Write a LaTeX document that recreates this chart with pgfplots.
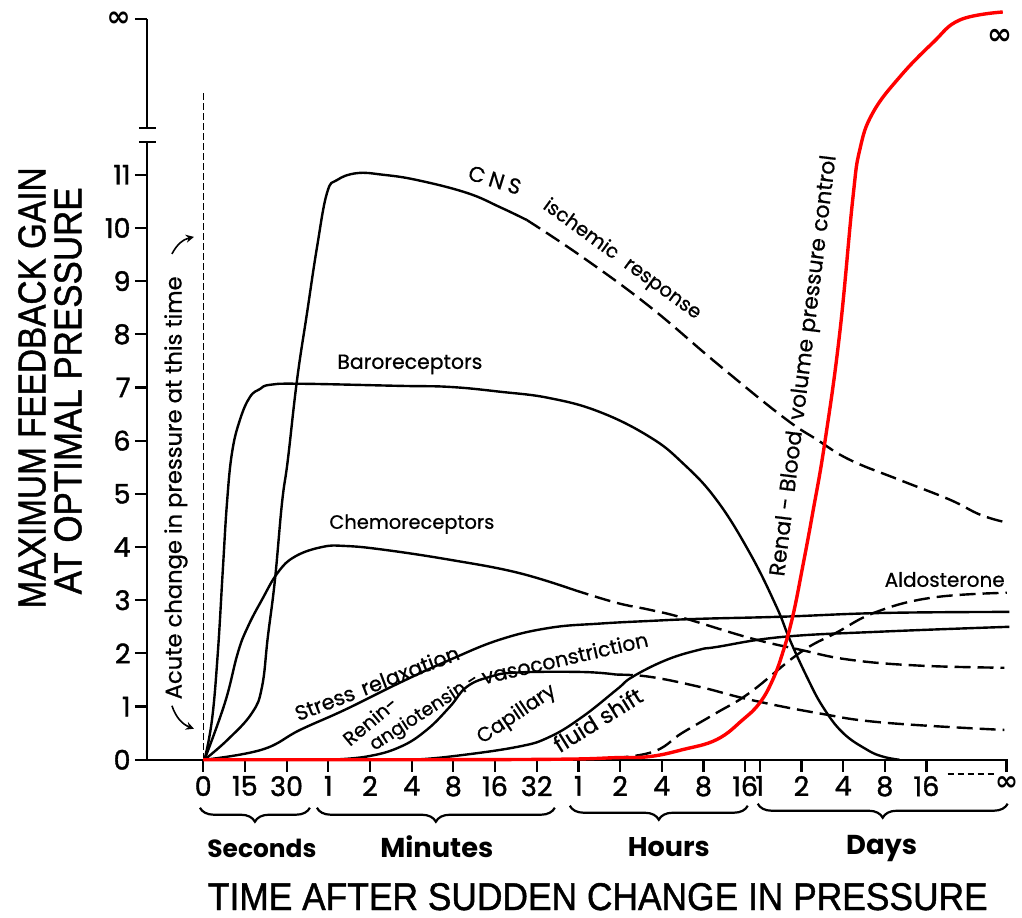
\documentclass[border=0pt]{standalone}
\usepackage{fontspec}
\setmainfont{Poppins}
\newfontfamily\titlefont[FakeBold=1.2]{Liberation Sans}
\newfontfamily\lab[FakeBold=0.7]{Poppins}
\newfontfamily\tickfont[FakeBold=1.4]{Poppins}
\newfontfamily\djv{DejaVu Sans}
\usepackage{pgfplots}
\pgfplotsset{compat=1.18}
\usetikzlibrary{decorations.pathreplacing,arrows.meta}
\newcommand\ticks{\tickfont\fontsize{13.5}{14}\selectfont}
\newcommand\infsym[1]{\resizebox{#1}{!}{\djv\bfseries ∞}}
\pgfplotsset{
  crv/.style={black, line width=1.2pt, smooth, tension=0.7},
  dsh/.style={crv, dash pattern=on 8pt off 3.5pt},
}
\begin{document}
\begin{tikzpicture}
\begin{scope}[x=0.5pt,y=-0.5pt]
\useasboundingbox (0,0) rectangle (1022,917);
\end{scope}
\begin{axis}[
  at={(73.5pt,-380pt)}, anchor=south west,
  scale only axis, width=430.55pt, height=370.54pt,
  xmin=-1.35, xmax=19.3, ymin=0, ymax=13.93,
  axis x line*=bottom, axis y line*=left,
  x axis line style={line width=1.2pt,-},
  y axis line style={line width=1.2pt,-},
  tick align=outside, major tick length=6pt,
  tick style={black, line width=1.1pt},
  xtick={0,1,2,3,4,5,6,7,8,9,10,11,12,13,13.35,14.35,15.35,16.35,17.35,19.27},
  xticklabels={0,15,30,1,2,4,8,16,32,1,2,4,8,16,1,2,4,8,16,{\infsym{11.5pt}}},
  ytick={0,1,2,3,4,5,6,7,8,9,10,11,13.93},
  yticklabels={0,1,2,3,4,5,6,7,8,9,10,11,{\infsym{12pt}}},
  xticklabel style={font=\ticks, inner sep=2pt},
  yticklabel style={font=\ticks, inner sep=2pt},
  clip=false,
]
% acute change line
\addplot[black, line width=0.7pt, dash pattern=on 3.5pt off 1.5pt] coordinates {(0,0) (0,12.55)};
% CNS ischemic response
\addplot[crv] coordinates {(0.03,0) (0.59,0.38) (1.17,0.88) (1.41,1.37) (1.55,2.31) (1.72,3.38) (1.89,4.83) (2.03,5.64) (2.25,7.14) (2.49,8.40) (2.73,9.64) (2.97,10.66) (3.21,10.90) (3.69,11.03) (4.31,11.00) (5.13,10.90) (6.32,10.66) (7.12,10.39) (7.76,10.15)};
\addplot[dsh] coordinates {(7.76,10.15) (9.10,9.45) (10.71,8.52) (12.31,7.46) (13.90,6.45) (14.72,6.02) (15.51,5.64) (16.71,5.26) (17.91,4.89) (18.63,4.61) (19.22,4.47)};
% Baroreceptors
\addplot[crv] coordinates {(0.03,0) (0.21,0.75) (0.35,2.01) (0.47,3.57) (0.57,4.83) (0.69,5.77) (0.88,6.39) (1.12,6.82) (1.36,6.97) (1.60,7.05) (2.32,7.07) (4.72,7.03) (5.92,7.01) (7.12,6.92) (8.31,6.80) (9.51,6.54) (10.71,6.07) (11.50,5.58) (12.31,4.89) (13.11,3.89) (13.75,2.88) (14.07,2.26) (14.48,1.56) (14.86,1.00) (15.34,0.51) (15.92,0.19) (16.30,0.06) (16.70,0)};
% Chemoreceptors
\addplot[crv] coordinates {(0.03,0) (0.52,1.07) (0.83,2.01) (1.07,2.50) (1.41,3.01) (1.79,3.52) (2.20,3.82) (2.85,4.00) (3.40,4.02) (4.32,3.95) (5.92,3.76) (7.53,3.52) (8.87,3.20)};
\addplot[dsh] coordinates {(8.87,3.20) (9.92,2.95) (10.71,2.82) (11.50,2.67) (13.11,2.29) (14.31,2.07) (15.51,1.88) (17.18,1.77) (19.22,1.73)};
% Stress relaxation
\addplot[crv] coordinates {(0.03,0) (1.41,0.19) (2.32,0.56) (3.40,0.94) (4.72,1.45) (5.92,1.88) (7.12,2.26) (8.31,2.48) (9.51,2.56) (10.71,2.61) (11.91,2.65) (13.90,2.69) (16.30,2.76) (19.34,2.78)};
% Renin-angiotensin
\addplot[crv] coordinates {(3.0,0) (3.92,0.06) (4.72,0.24) (5.36,0.56) (5.92,1.00) (6.32,1.37) (6.88,1.56) (7.52,1.64) (9.10,1.65) (9.92,1.60)};
\addplot[dsh] coordinates {(9.92,1.60) (10.71,1.56) (11.91,1.37) (13.11,1.13) (14.72,0.88) (16.30,0.70) (19.22,0.56)};
% Capillary fluid shift
\addplot[crv] coordinates {(5.0,0) (5.92,0.06) (7.52,0.24) (8.31,0.43) (9.10,0.81) (9.92,1.32) (10.30,1.56) (11.12,1.88) (11.91,2.07) (12.31,2.12) (13.90,2.31) (16.30,2.41) (19.34,2.50)};
% Aldosterone
\addplot[dsh] coordinates {(9.27,0) (10.71,0.13) (11.50,0.51) (12.31,0.88) (13.11,1.26) (14.31,2.01) (15.19,2.39) (16.15,2.78) (17.50,3.05) (19.28,3.14)};
% Renal-blood volume pressure control
\addplot[red, line width=1.7pt, smooth, tension=0.7] coordinates {(0,0) (5,0) (8.55,0.01) (9.92,0.04) (10.71,0.06) (11.50,0.19) (12.32,0.38) (12.94,0.75) (13.35,1.07) (13.66,1.50) (13.90,2.01) (14.14,2.69) (14.38,3.63) (14.62,4.64) (14.91,5.96) (15.27,8.03) (15.58,10.53) (15.75,11.47) (16.06,12.16) (16.71,12.84) (17.50,13.48) (18.15,13.91) (19.18,14.06)};
\end{axis}
\begin{scope}[x=0.5pt,y=-0.5pt]
% axis break
\fill[white] (141,129) rectangle (153,141);
\draw[line width=1.1pt] (139,128) -- (156,128);
\draw[line width=1.1pt] (139,142) -- (156,142);
% dots before infinity
\draw[line width=1.2pt, dash pattern=on 3pt off 2pt] (948,774) -- (994,774);
% axis titles
\node[rotate=90] at (32,388) {\resizebox{220.5pt}{13.5pt}{\titlefont MAXIMUM FEEDBACK GAIN}};
\node[rotate=90] at (68,391) {\resizebox{203.5pt}{13.5pt}{\titlefont AT OPTIMAL PRESSURE}};
\node at (598,897) {\resizebox{390pt}{13.5pt}{\titlefont TIME AFTER SUDDEN CHANGE IN PRESSURE}};
% braces
\draw[line width=1.1pt, decorate, decoration={brace, mirror, amplitude=7pt}] (200,808) -- (310,808);
\draw[line width=1.1pt, decorate, decoration={brace, mirror, amplitude=7pt}] (317,808) -- (555,808);
\draw[line width=1.1pt, decorate, decoration={brace, mirror, amplitude=7pt}] (570,806) -- (748,806);
\draw[line width=1.1pt, decorate, decoration={brace, mirror, amplitude=7pt}] (758,804) -- (1008,804);
\node[anchor=base] at (262,858) {\resizebox{54.5pt}{!}{\bfseries Seconds}};
\node[anchor=base] at (437,858) {\resizebox{56.5pt}{!}{\bfseries Minutes}};
\node[anchor=base] at (669,857) {\resizebox{41pt}{!}{\bfseries Hours}};
\node[anchor=base] at (882,855) {\resizebox{35.5pt}{!}{\bfseries Days}};
% labels
\node[rotate=90] at (176,488) {\resizebox{211.5pt}{!}{\lab Acute change in pressure at this time}};
\draw[line width=0.8pt, -{Stealth[length=4pt,width=4pt]}] (172,254) to[bend left=25] (194,237);
\draw[line width=0.8pt, -{Stealth[length=4pt,width=4pt]}] (172,706) to[bend right=25] (194,729);
\node[anchor=base] at (410,369) {\resizebox{72.5pt}{!}{\lab Baroreceptors}};
\node[anchor=base] at (412,529) {\resizebox{82.5pt}{!}{\lab Chemoreceptors}};
\node[anchor=base] at (945,587) {\resizebox{60pt}{!}{\lab Aldosterone}};
\node[rotate=-17] at (495,180) {\resizebox{27pt}{!}{\lab C\hspace{0.22em}N\hspace{0.22em}S}};
\node[rotate=-36] at (622,260) {\resizebox{95pt}{!}{\lab ischemic\hspace{0.6em}response}};
\node[rotate=21] at (377,683) {\resizebox{87pt}{!}{\lab Stress\hspace{0.4em}relaxation}};
\node[rotate=40] at (370,721) {\resizebox{32pt}{!}{\lab Renin-}};
\node[rotate=33] at (425,713) {\resizebox{63pt}{!}{\lab angiotensin -}};
\node[rotate=13] at (565,658) {\resizebox{85pt}{!}{\lab vasoconstriction}};
\node[rotate=34] at (517,715) {\resizebox{45pt}{!}{\lab Capillary}};
\node[rotate=32] at (598,720) {\resizebox{50pt}{!}{\lab fluid shift}};
\node[rotate=83] at (805,366) {\resizebox{212pt}{!}{\lab Renal - Blood\hspace{0.5em}volume\hspace{0.3em}pressure\hspace{0.3em}control}};
\node at (1000,37) {\infsym{12.5pt}};
\end{scope}
\end{tikzpicture}
\end{document}
